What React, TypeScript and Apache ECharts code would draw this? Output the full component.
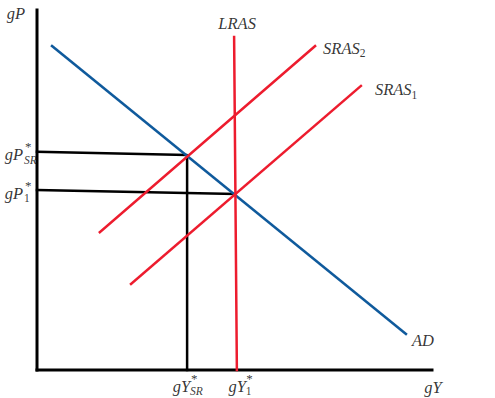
import React, { useEffect, useRef } from "react";
import * as echarts from "echarts";

// Conceptual axis ranges (gY horizontally, gP vertically); origin is where the axes cross
const X_RANGE = [-9.37, 115.95];
const Y_RANGE = [-7.78, 102.78];

// Axes
const yAxisLine = [[0, 100], [0, 0]];
const xAxisLine = [[0, 0], [100, 0]];

// Curves
const adCurve = [[3.8, 90], [93.4, 10]];
const lrasCurve = [[49.9, 92.5], [50.6, 0]];
const sras2Curve = [[15.9, 38.3], [70.4, 90]];
const sras1Curve = [[23.8, 23.9], [82, 78.9]];

// Equilibrium guide lines
const gPsr = 60.6;
const gP1 = 50;
const gYsr = 38;
const gY1 = 50.6;
const srGuide = [[0, gPsr], [gYsr, 59.7], [gYsr, 0]];
const oneGuide = [[0, gP1], [50.1, 48.9]];

const RED = "#ED1C2E";
const BLUE = "#0F5A9C";
const FONT = "Liberation Serif";

const rich = {
  m: { fontFamily: FONT, fontStyle: "italic", fontSize: 16.5, color: "#000", lineHeight: 22 },
  s: { fontFamily: FONT, fontStyle: "italic", fontSize: 11.5, color: "#000", lineHeight: 11, verticalAlign: "bottom" },
  n: { fontFamily: FONT, fontSize: 11.5, color: "#000", lineHeight: 11, verticalAlign: "bottom" },
};

const MAIN = { fontFamily: FONT, fontStyle: "italic", fontSize: 16.5, color: "#000", lineHeight: 16 };
const SUBI = { fontFamily: FONT, fontStyle: "italic", fontSize: 11.5, color: "#000", lineHeight: 9 };
const SUBN = { fontFamily: FONT, fontSize: 11.5, color: "#000", lineHeight: 9 };
const STAR = { fontFamily: FONT, fontSize: 13, color: "#000", lineHeight: 5 };

function lbl(value: number[], formatter: string, offset: number[], align = "center") {
  return {
    value,
    label: {
      show: true,
      position: "inside",
      formatter,
      offset,
      align,
      verticalAlign: "middle",
      rich,
    },
  };
}

function piece(value: number[], text: string, style: any, offset: number[], align: string) {
  return {
    value,
    label: {
      show: true,
      position: "inside",
      formatter: text,
      offset,
      align,
      verticalAlign: "middle",
      ...style,
    },
  };
}

function lineSeries(data: number[][], color: string, width: number) {
  return {
    type: "line",
    data,
    showSymbol: false,
    symbol: "none",
    silent: true,
    lineStyle: { color, width, cap: "square" },
    z: 2,
  };
}

export default function App() {
  const ref = useRef<HTMLDivElement>(null);
  useEffect(() => {
    document.body.style.margin = "0";
    const chart = echarts.init(ref.current!, null, { renderer: "svg" });
    const labels = [
      lbl([0, 100], "{m|gP}", [-21, 3]),
      // gP*_SR
      piece([0, gPsr], "gP", MAIN, [-14, 3], "right"),
      piece([0, gPsr], "SR", SUBI, [-13, 8], "left"),
      piece([0, gPsr], "*", STAR, [-12, -5], "left"),
      // gP*_1
      piece([0, gP1], "gP", MAIN, [-14, 3], "right"),
      piece([0, gP1], "1", SUBN, [-13, 8], "left"),
      piece([0, gP1], "*", STAR, [-12, -5], "left"),
      // gY*_SR
      piece([gYsr, 0], "gY", MAIN, [3, 17], "right"),
      piece([gYsr, 0], "SR", SUBI, [3, 21.5], "left"),
      piece([gYsr, 0], "*", STAR, [4, 9], "left"),
      // gY*_1
      piece([gY1, 0], "gY", MAIN, [9, 17], "right"),
      piece([gY1, 0], "1", SUBN, [9, 21.5], "left"),
      piece([gY1, 0], "*", STAR, [9.5, 9], "left"),
      lbl([100, 0], "{m|gY}", [1, 18]),
      lbl(lrasCurve[0], "{m|LRAS}", [3, -14]),
      lbl(sras2Curve[1], "{m|SRAS}{n|2}", [8, 2], "left"),
      lbl(sras1Curve[1], "{m|SRAS}{n|1}", [14, 4], "left"),
      lbl(adCurve[1], "{m|AD}", [6, 7], "left"),
    ];
    chart.setOption({
      animation: false,
      grid: { left: 0, right: 0, top: 0, bottom: 0 },
      xAxis: { type: "value", min: X_RANGE[0], max: X_RANGE[1], show: false },
      yAxis: { type: "value", min: Y_RANGE[0], max: Y_RANGE[1], show: false },
      series: [
        lineSeries(yAxisLine, "#000", 3),
        lineSeries(xAxisLine, "#000", 3),
        lineSeries(srGuide, "#000", 2.5),
        lineSeries(oneGuide, "#000", 2.5),
        lineSeries(adCurve, BLUE, 2.5),
        lineSeries(sras2Curve, RED, 2.5),
        lineSeries(sras1Curve, RED, 2.5),
        lineSeries(lrasCurve, RED, 2.5),
        {
          type: "scatter",
          symbolSize: 0,
          silent: true,
          data: labels,
          z: 5,
        },
      ],
    });
    return () => chart.dispose();
  }, []);
  return <div ref={ref} style={{ width: 495, height: 398 }} />;
}
